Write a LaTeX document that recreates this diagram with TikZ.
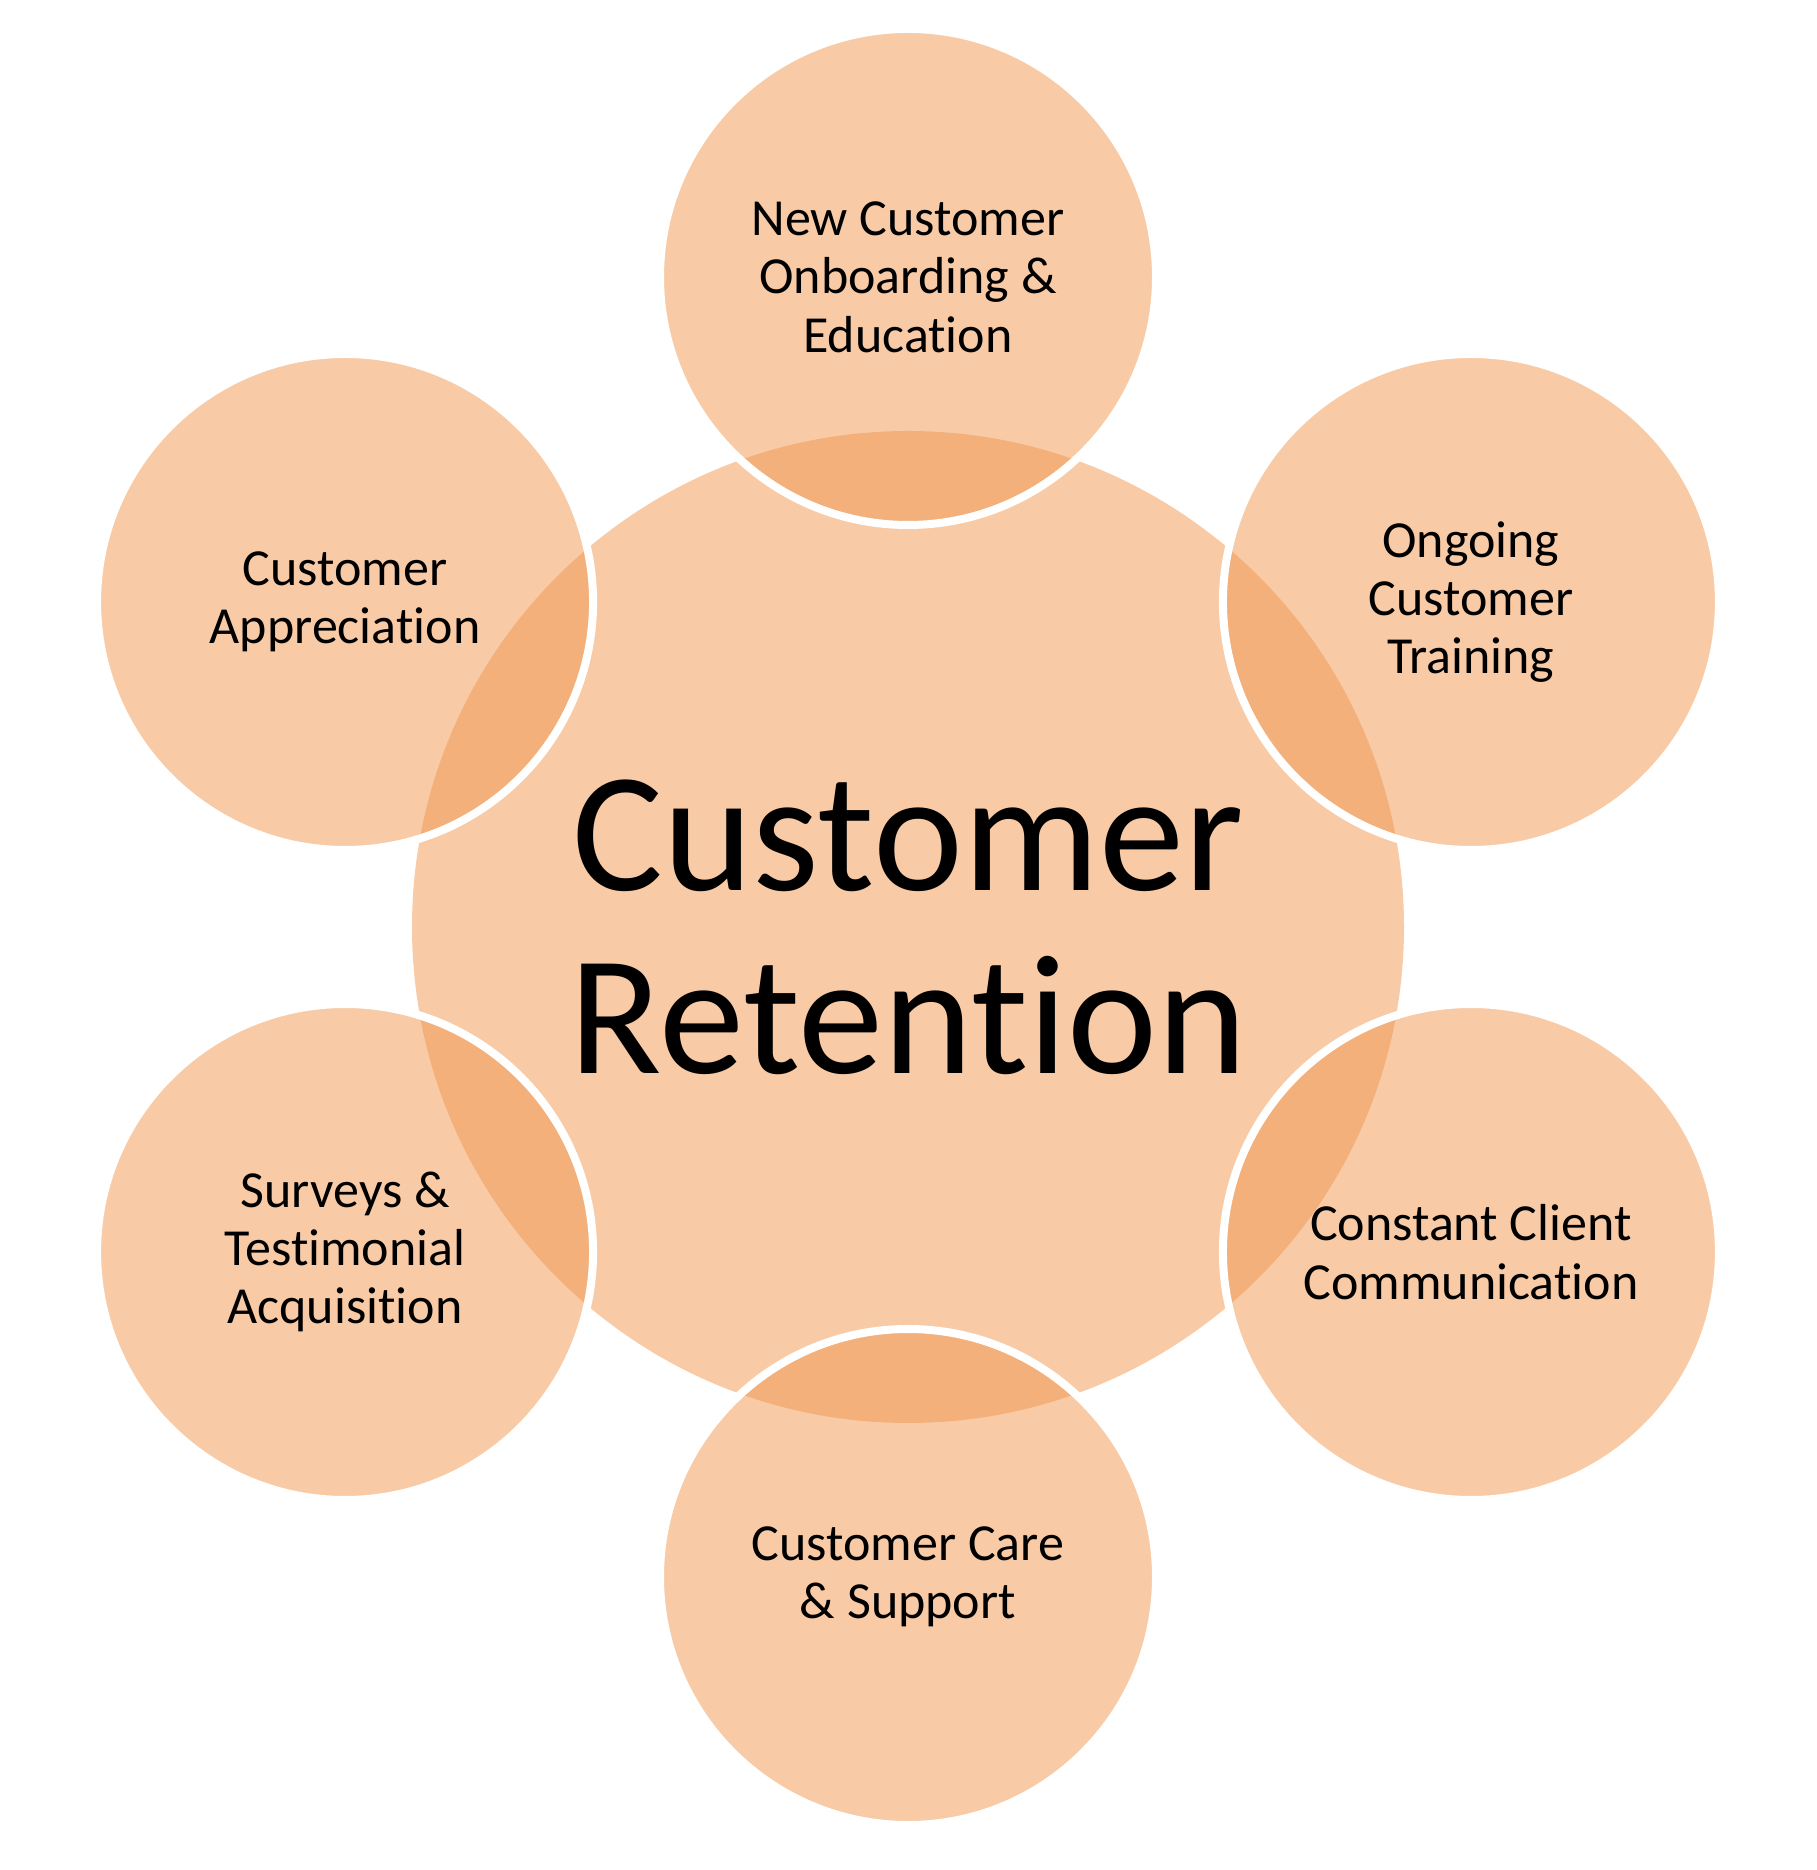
\documentclass[tikz,border=0pt]{standalone}
\usepackage{fontspec}
\setmainfont{Carlito}[Ligatures={NoCommon,NoContextual}]
\definecolor{peachlight}{HTML}{F8CBA6}
\definecolor{peachdark}{HTML}{F4B07B}
\tikzset{
  hub/.style={circle, fill=peachlight, minimum size=99.2mm, inner sep=0pt,
    align=center, font=\fontsize{48.5}{52}\selectfont},
  topic/.style={circle, fill=peachlight, draw=white, line width=0.8mm,
    minimum size=49.6mm, inner sep=0pt, align=center,
    font=\fontsize{14.8}{16.6}\selectfont,
    path picture={\fill[peachdark] (hub.center) circle (49.6mm);}},
}
\begin{document}
\begin{tikzpicture}[x=0.1mm, y=0.1mm]
    \useasboundingbox (-908,-943) rectangle (908,927);
    % === Centro ===
    \node[hub] (hub) at (0,0) {Customer\\Retention};
    % === Cerchi esterni ===
    \foreach \name/\ang/\txt in {
        onboard/90/{New Customer\\Onboarding \&\\Education},
        training/30/{Ongoing\\Customer\\Training},
        comm/-30/{Constant Client\\Communication},
        care/-90/{Customer Care\\\& Support},
        surveys/210/{Surveys \&\\Testimonial\\Acquisition},
        apprec/150/{Customer\\Appreciation}}
    {
        \node[topic] (\name) at (\ang:650) {\txt};
    }
\end{tikzpicture}
\end{document}
